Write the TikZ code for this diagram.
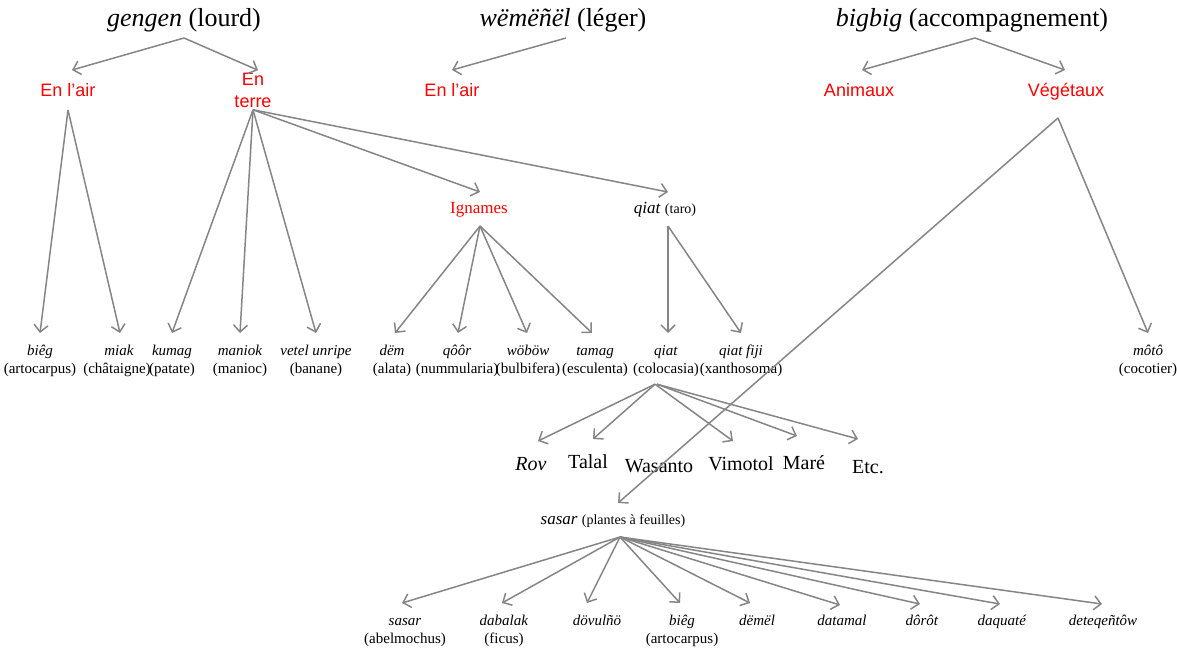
\documentclass[tikz,border=0pt]{standalone}
\usepackage{fontspec}
\setmainfont{Liberation Serif}
\setsansfont{Liberation Sans}
\usetikzlibrary{arrows.meta}
\definecolor{arrgray}{HTML}{858585}
\definecolor{lblred}{HTML}{FF0000}
\newcommand\lfstrut{\rule{0pt}{14pt}}
\begin{document}
\begin{tikzpicture}[x=1pt,y=-1pt,
 arr/.style={draw=arrgray, line width=1.5pt, -{Straight Barb[length=7pt,width=14pt]}},
 title/.style={font=\fontsize{26}{30}\selectfont, inner sep=0pt, text height=18pt, text depth=6pt, outer ysep=6pt},
 redsans/.style={font=\sffamily\fontsize{18}{22}\selectfont, text=lblred, inner sep=0pt},
 redone/.style={redsans, text height=13pt, text depth=0pt, outer ysep=13.5pt},
 mid/.style={inner sep=0pt, text height=12pt, text depth=4pt, outer ysep=9pt},
 leaf/.style={align=center, inner sep=0pt, outer ysep=8pt, anchor=north, font=\fontsize{15}{18}\selectfont},
 cult/.style={font=\fontsize{20}{24}\selectfont, inner sep=0pt, text height=14pt, text depth=0pt, outer ysep=15pt, anchor=base}]
\useasboundingbox (0,0) rectangle (1177,651);

% titles
\node[title] (gen) at (184,20) {\textit{gengen} (lourd)};
\node[title] (wem) at (563,20) {\textit{wëmëñël} (léger)};
\node[title] (big) at (972,20) {\textit{bigbig} (accompagnement)};

% red categories
\node[redone] (air1) at (68,90) {En l’air};
\node[redsans, align=center, outer ysep=2.5pt] (terre) at (253,90) {En\\terre};
\node[redone] (air2) at (452,90) {En l’air};
\node[redone] (anim) at (859,90) {Animaux};
\node[redone] (veg) at (1066,90) {Végétaux};

\node[mid, text=lblred, font=\fontsize{17}{20}\selectfont] (ign) at (479,209) {Ignames};
\node[mid] (taro) at (665,209) {\fontsize{17}{20}\selectfont\textit{qiat} \fontsize{14}{17}\selectfont(taro)};

% first leaf row
\node[leaf] (b1) at (40,333) {\lfstrut\textit{biêg}\\(artocarpus)};
\node[leaf] (b2) at (117,333) {\lfstrut\hspace*{4pt}\textit{miak}\\(châtaigne)};
\node[leaf] (b3) at (172,333) {\lfstrut\textit{kumag}\\(patate)};
\node[leaf] (b4) at (240,333) {\lfstrut\textit{maniok}\\(manioc)};
\node[leaf] (b5) at (316,333) {\lfstrut\textit{vetel unripe}\\(banane)};
\node[leaf] (b6) at (392,333) {\lfstrut\textit{dëm}\\(alata)};
\node[leaf] (b7) at (457,333) {\lfstrut\textit{qôôr}\\(nummularia)};
\node[leaf] (b8) at (528,333) {\lfstrut\textit{wöböw}\\(bulbifera)};
\node[leaf] (b9) at (595,333) {\lfstrut\textit{tamag}\\(esculenta)};
\node[leaf] (b10) at (666,333) {\lfstrut\textit{qiat}\\(colocasia)};
\node[leaf] (b11) at (741,333) {\lfstrut\textit{qiat fiji}\\(xanthosoma)};
\node[leaf] (b12) at (1148,333) {\lfstrut\textit{môtô}\\(cocotier)};

% cultivars
\node[cult] (rov) at (531,470) {\textit{Rov}};
\node[cult] (talal) at (588,468) {Talal};
\node[cult] (wasanto) at (659,472) {Wasanto};
\node[cult] (vimotol) at (741,470) {Vimotol};
\node[cult] (mare) at (804,469) {Maré};
\node[cult] (etc) at (868,473) {Etc.};

% sasar
\node[mid] (sas) at (613,520) {\fontsize{17}{20}\selectfont\textit{sasar} \fontsize{14}{17}\selectfont(plantes à feuilles)};

% second leaf row
\node[leaf] (s1) at (405,603) {\lfstrut\textit{sasar}\\(abelmochus)};
\node[leaf] (s2) at (504,603) {\lfstrut\textit{dabalak}\\(ficus)};
\node[leaf] (s3) at (597,603) {\lfstrut\textit{dövulñö}};
\node[leaf] (s4) at (682,603) {\lfstrut\textit{biêg}\\(artocarpus)};
\node[leaf] (s5) at (757,603) {\lfstrut\textit{dëmël}};
\node[leaf] (s6) at (842,603) {\lfstrut\textit{datamal}};
\node[leaf] (s7) at (922,603) {\lfstrut\textit{dôrôt}};
\node[leaf] (s8) at (1002,603) {\lfstrut\textit{daquaté}};
\node[leaf] (s9) at (1103,603) {\lfstrut\textit{deteqeñtôw}};

% connectors
\draw[arr] (gen.south) -- ([xshift=4pt]air1.north);
\draw[arr] (gen.south) -- ([xshift=5pt]terre.north);
\draw[arr] ([xshift=3pt]wem.south) -- (air2.north);
\draw[arr] ([xshift=3pt]big.south) -- ([xshift=3pt]anim.north);
\draw[arr] ([xshift=3pt]big.south) -- ([xshift=-1pt]veg.north);

\draw[arr] (air1.south) -- (b1.north);
\draw[arr] (air1.south) -- ([xshift=3pt]b2.north);
\draw[arr] (terre.south) -- (b3.north);
\draw[arr] (terre.south) -- (b4.north);
\draw[arr] (terre.south) -- (b5.north);
\draw[arr] (terre.south) -- ([xshift=1pt]ign.north);
\draw[arr] (terre.south) -- ([xshift=3pt]taro.north);

\draw[arr] ([xshift=1pt]ign.south) -- ([xshift=3pt]b6.north);
\draw[arr] ([xshift=1pt]ign.south) -- ([xshift=1pt]b7.north);
\draw[arr] ([xshift=1pt]ign.south) -- ([xshift=-1pt]b8.north);
\draw[arr] ([xshift=1pt]ign.south) -- ([xshift=-3pt]b9.north);
\draw[arr] ([xshift=3pt]taro.south) -- ([xshift=2pt]b10.north);
\draw[arr] ([xshift=3pt]taro.south) -- (b11.north);

\draw[arr] ([xshift=-8pt,yshift=-8pt]veg.south) -- (b12.north);
\draw[arr] ([xshift=-8pt,yshift=-8pt]veg.south) -- ([xshift=5pt]sas.north);

\draw[arr] ([xshift=-11pt]b10.south) -- ([xshift=7pt]rov.north);
\draw[arr] ([xshift=-11pt]b10.south) -- ([xshift=5pt]talal.north);
\draw[arr] ([xshift=-11pt]b10.south) -- ([xshift=-8pt]vimotol.north);
\draw[arr] ([xshift=-9pt]b10.south) -- ([xshift=-7pt,yshift=4pt]mare.north);
\draw[arr] ([xshift=-9pt]b10.south) -- ([xshift=-10pt,yshift=5pt]etc.north);

\draw[arr] ([xshift=7pt]sas.south) -- ([xshift=-3pt]s1.north);
\draw[arr] ([xshift=7pt]sas.south) -- ([xshift=-2pt]s2.north);
\draw[arr] ([xshift=7pt]sas.south) -- ([xshift=-10pt]s3.north);
\draw[arr] ([xshift=7pt]sas.south) -- ([xshift=-2pt]s4.north);
\draw[arr] ([xshift=7pt]sas.south) -- ([xshift=-7pt]s5.north);
\draw[arr] ([xshift=7pt]sas.south) -- ([xshift=-2pt,yshift=-2pt]s6.north);
\draw[arr] ([xshift=7pt]sas.south) -- ([xshift=-2pt,yshift=-1pt]s7.north);
\draw[arr] ([xshift=7pt]sas.south) -- ([xshift=-2pt,yshift=-1pt]s8.north);
\draw[arr] ([xshift=7pt]sas.south) -- ([xshift=-1pt,yshift=-1pt]s9.north);
\end{tikzpicture}
\end{document}
